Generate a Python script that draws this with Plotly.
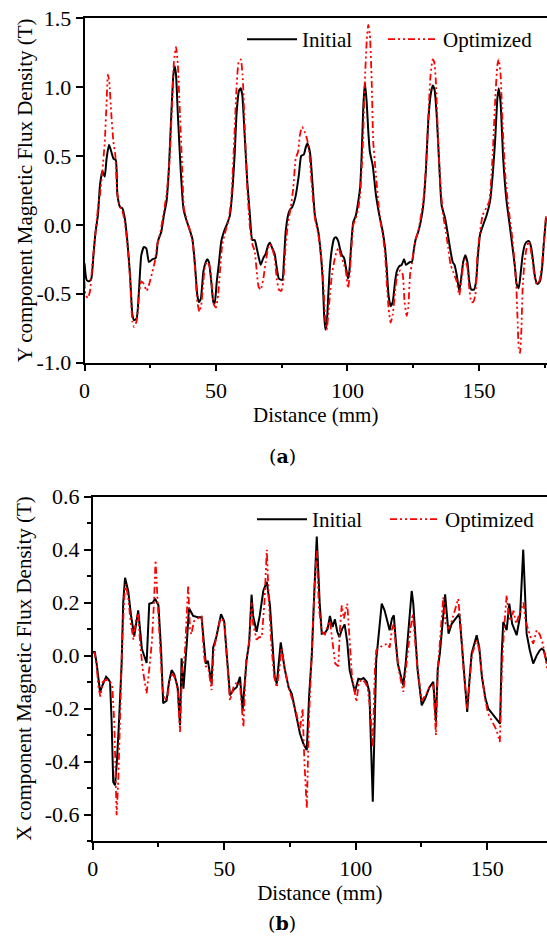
import plotly.graph_objects as go

# ---------------- (a) Y component ----------------
top_initial = [(0, -0.28), (0.8, -0.40), (1.7, -0.41), (2.6, -0.39), (3.4, -0.22), (4.2, -0.05), (5.1, 0.07), (5.9, 0.29), (6.8, 0.39), (7.7, 0.35), (8.4, 0.48), (9.3, 0.58), (10.2, 0.53), (11.0, 0.48), (11.9, 0.47), (12.5, 0.22), (13.5, 0.13), (14.4, 0.12), (15.3, 0.05), (16.3, -0.12), (17.3, -0.36), (18.2, -0.65), (18.8, -0.69), (19.8, -0.68), (20.7, -0.48), (21.6, -0.22), (22.6, -0.16), (23.5, -0.17), (24.5, -0.27), (25.8, -0.25), (27.1, -0.24), (27.9, -0.12), (29.2, -0.05), (30.2, 0.07), (31.2, 0.17), (32.1, 0.41), (33.0, 0.80), (33.8, 1.09), (34.3, 1.15), (34.8, 1.09), (35.5, 0.80), (36.6, 0.39), (37.6, 0.12), (38.5, 0.05), (39.7, -0.02), (41.0, -0.10), (42.0, -0.29), (42.9, -0.51), (43.5, -0.56), (44.2, -0.54), (45.2, -0.34), (46.1, -0.27), (46.7, -0.25), (47.3, -0.27), (48.2, -0.41), (49.0, -0.56), (49.5, -0.57), (50.3, -0.41), (51.1, -0.28), (52.0, -0.12), (53.0, -0.05), (54.3, 0.01), (55.3, 0.07), (56.2, 0.24), (57.1, 0.51), (57.8, 0.80), (58.7, 0.97), (59.4, 0.99), (60.0, 0.94), (60.9, 0.65), (61.9, 0.31), (62.9, 0.07), (63.8, -0.11), (64.7, -0.11), (65.5, -0.17), (66.3, -0.24), (67.0, -0.29), (68.0, -0.24), (68.9, -0.21), (69.8, -0.15), (70.5, -0.13), (71.4, -0.17), (72.3, -0.21), (73.1, -0.31), (73.9, -0.39), (75.2, -0.40), (75.8, -0.27), (76.5, -0.05), (77.4, 0.07), (78.1, 0.11), (79.0, 0.13), (80.3, 0.21), (81.5, 0.36), (82.4, 0.50), (83.4, 0.51), (84.1, 0.56), (84.7, 0.59), (85.7, 0.53), (86.8, 0.27), (87.6, 0.07), (88.9, -0.05), (89.9, -0.22), (90.6, -0.41), (91.1, -0.65), (91.6, -0.76), (92.1, -0.72), (92.7, -0.51), (93.3, -0.31), (94.1, -0.17), (94.9, -0.10), (95.6, -0.09), (96.5, -0.12), (97.1, -0.17), (97.9, -0.22), (98.7, -0.24), (99.4, -0.31), (100.2, -0.39), (100.7, -0.34), (101.5, -0.12), (102.2, 0.02), (103.2, 0.07), (104.1, 0.17), (104.8, 0.27), (105.4, 0.51), (106.0, 0.85), (106.6, 1.03), (107.3, 0.89), (107.9, 0.68), (108.5, 0.53), (109.6, 0.43), (110.8, 0.22), (112.1, 0.07), (113.4, -0.05), (114.3, -0.17), (114.9, -0.31), (115.6, -0.51), (116.4, -0.59), (117.2, -0.56), (118.1, -0.41), (118.7, -0.34), (119.7, -0.30), (120.6, -0.29), (121.5, -0.25), (122.2, -0.29), (123.0, -0.28), (123.8, -0.27), (124.5, -0.27), (125.3, -0.17), (126.0, -0.10), (126.9, -0.05), (127.8, 0.02), (128.8, 0.14), (129.8, 0.39), (130.7, 0.75), (131.6, 0.94), (132.4, 1.01), (133.1, 0.98), (133.9, 0.80), (134.9, 0.43), (135.8, 0.14), (137.1, 0.05), (138.0, -0.05), (139.0, -0.17), (140.0, -0.27), (140.7, -0.29), (141.5, -0.36), (142.5, -0.48), (143.4, -0.36), (144.0, -0.27), (144.8, -0.22), (145.6, -0.27), (146.3, -0.41), (147.1, -0.47), (148.1, -0.47), (148.9, -0.41), (149.6, -0.22), (150.4, -0.07), (151.6, 0.00), (152.9, 0.07), (154.2, 0.17), (155.2, 0.36), (156.1, 0.60), (157.0, 0.92), (157.5, 0.99), (158.2, 0.89), (159.2, 0.48), (160.5, 0.17), (161.8, -0.02), (162.8, -0.17), (163.7, -0.31), (164.3, -0.43), (165.1, -0.46), (165.8, -0.36), (166.6, -0.22), (167.5, -0.14), (168.4, -0.12), (169.1, -0.12), (169.9, -0.17), (170.6, -0.27), (171.4, -0.39), (172.2, -0.43), (173.2, -0.41), (174.0, -0.31), (174.7, -0.12), (175.5, 0.05)]

top_optimized = [(0, -0.41), (0.4, -0.51), (1.3, -0.53), (2.1, -0.48), (2.9, -0.31), (3.6, -0.17), (4.4, -0.02), (5.1, 0.12), (5.9, 0.22), (6.8, 0.39), (7.7, 0.60), (8.4, 0.89), (8.9, 1.09), (9.4, 1.04), (10.2, 0.80), (11.0, 0.60), (11.7, 0.51), (12.5, 0.22), (13.5, 0.13), (14.4, 0.10), (15.3, 0.02), (16.3, -0.14), (17.3, -0.39), (18.2, -0.70), (18.8, -0.74), (19.8, -0.70), (20.7, -0.51), (21.6, -0.41), (22.6, -0.43), (23.6, -0.48), (24.6, -0.43), (25.8, -0.34), (26.7, -0.27), (27.7, -0.14), (28.9, -0.05), (30.2, 0.10), (31.2, 0.22), (32.3, 0.46), (33.3, 0.87), (34.0, 1.18), (34.8, 1.29), (35.5, 1.16), (36.3, 0.80), (37.2, 0.39), (37.8, 0.12), (38.8, 0.04), (40.1, -0.04), (41.1, -0.12), (42.0, -0.31), (42.9, -0.56), (43.7, -0.63), (44.4, -0.58), (45.2, -0.41), (45.9, -0.29), (46.7, -0.27), (47.7, -0.31), (48.5, -0.46), (49.2, -0.58), (50.0, -0.60), (50.8, -0.51), (51.5, -0.34), (52.4, -0.14), (53.7, -0.04), (54.9, 0.05), (55.8, 0.19), (56.8, 0.56), (57.8, 0.99), (58.6, 1.18), (59.4, 1.20), (60.1, 1.09), (60.9, 0.72), (61.9, 0.27), (62.9, -0.02), (63.8, -0.14), (64.7, -0.19), (65.5, -0.34), (66.2, -0.45), (67.0, -0.47), (68.0, -0.39), (68.9, -0.27), (69.8, -0.17), (70.5, -0.14), (71.4, -0.17), (72.3, -0.24), (73.1, -0.39), (73.9, -0.47), (74.8, -0.48), (75.6, -0.41), (76.4, -0.17), (77.4, 0.02), (78.4, 0.12), (79.4, 0.27), (80.3, 0.48), (81.2, 0.53), (81.9, 0.65), (82.7, 0.71), (83.4, 0.69), (84.5, 0.63), (85.3, 0.56), (86.4, 0.29), (87.6, 0.05), (88.9, -0.07), (89.9, -0.22), (90.6, -0.36), (91.1, -0.53), (91.6, -0.70), (92.1, -0.76), (92.7, -0.65), (93.3, -0.51), (94.1, -0.36), (94.9, -0.27), (95.9, -0.19), (96.6, -0.17), (97.4, -0.22), (98.4, -0.27), (99.4, -0.34), (100.2, -0.46), (100.7, -0.39), (101.5, -0.17), (102.2, 0.00), (103.2, 0.05), (104.1, 0.12), (104.8, 0.22), (105.8, 0.56), (106.6, 1.04), (107.3, 1.33), (107.9, 1.45), (108.5, 1.38), (109.2, 1.04), (109.8, 0.60), (110.6, 0.41), (111.7, 0.17), (112.6, 0.02), (113.4, -0.07), (114.3, -0.22), (114.9, -0.41), (115.6, -0.60), (116.4, -0.71), (117.2, -0.65), (118.1, -0.48), (118.7, -0.39), (119.5, -0.34), (120.2, -0.33), (121.0, -0.36), (121.7, -0.56), (122.5, -0.66), (123.1, -0.60), (123.8, -0.36), (124.5, -0.28), (125.3, -0.17), (126.0, -0.10), (126.9, -0.05), (127.8, 0.05), (128.8, 0.17), (129.8, 0.41), (130.7, 0.77), (131.6, 1.09), (132.4, 1.20), (133.0, 1.18), (133.6, 1.04), (134.5, 0.60), (135.4, 0.27), (136.4, 0.07), (137.4, -0.05), (138.3, -0.17), (139.2, -0.29), (140.2, -0.34), (141.5, -0.41), (142.5, -0.51), (143.4, -0.39), (144.0, -0.29), (144.8, -0.25), (145.6, -0.31), (146.3, -0.46), (147.1, -0.56), (147.8, -0.56), (148.6, -0.51), (149.4, -0.22), (150.4, -0.05), (151.4, 0.07), (152.7, 0.12), (153.9, 0.17), (155.2, 0.51), (156.2, 0.92), (157.0, 1.16), (157.5, 1.20), (158.2, 1.09), (159.0, 0.72), (160.0, 0.36), (161.1, 0.14), (162.4, -0.05), (163.3, -0.22), (164.1, -0.41), (164.6, -0.65), (165.1, -0.89), (165.6, -0.93), (166.1, -0.77), (166.6, -0.46), (167.3, -0.27), (168.1, -0.17), (168.9, -0.12), (169.6, -0.17), (170.4, -0.27), (171.2, -0.39), (171.9, -0.43), (172.9, -0.41), (173.8, -0.31), (174.7, -0.12), (175.5, 0.07)]

# ---------------- (b) X component ----------------
bot_initial = [(0, 0.014), (0.8, 0.014), (1.5, -0.03), (2.2, -0.10), (2.8, -0.137), (3.8, -0.11), (5.1, -0.08), (6.0, -0.09), (6.6, -0.10), (7.2, -0.25), (7.8, -0.477), (8.5, -0.49), (9.2, -0.40), (9.9, -0.27), (11.0, -0.03), (11.6, 0.20), (12.3, 0.294), (13.5, 0.244), (14.6, 0.15), (15.8, 0.074), (17.3, 0.171), (18.7, 0.026), (20.5, -0.028), (21.5, 0.196), (22.8, 0.20), (23.7, 0.215), (25.0, 0.19), (26.0, 0.02), (26.8, -0.18), (28.1, -0.17), (29.0, -0.10), (30.0, -0.055), (31.0, -0.07), (32.3, -0.12), (33.2, -0.263), (33.8, -0.01), (34.5, -0.125), (35.8, 0.05), (36.6, 0.18), (38.2, 0.15), (40.0, 0.145), (41.4, 0.145), (42.4, 0.05), (43.0, -0.03), (43.8, -0.02), (45.2, -0.106), (45.8, 0.03), (47.0, 0.07), (48.8, 0.156), (50.0, 0.13), (51.0, 0.0), (52.2, -0.15), (53.5, -0.13), (54.8, -0.118), (56.0, -0.08), (57.0, -0.206), (58.5, -0.018), (59.5, 0.05), (60.4, 0.23), (61.0, 0.15), (62.3, 0.09), (63.5, 0.15), (64.9, 0.246), (66.2, 0.278), (67.4, 0.19), (68.5, 0.0), (69.2, -0.08), (70.0, -0.106), (71.5, 0.05), (73.0, -0.05), (74.5, -0.12), (75.7, -0.144), (77.3, -0.22), (78.8, -0.294), (80.0, -0.33), (81.4, -0.357), (82.3, -0.15), (83.3, 0.0), (84.3, 0.25), (85.2, 0.45), (86.3, 0.2), (87.1, 0.083), (88.3, 0.086), (89.3, 0.10), (90.2, 0.15), (91.2, 0.108), (92.1, 0.137), (93.0, 0.09), (93.8, 0.07), (94.8, 0.10), (95.8, 0.118), (96.8, 0.05), (97.7, -0.055), (98.6, -0.09), (99.7, -0.137), (101.0, -0.087), (102.0, -0.09), (103.0, -0.085), (104.2, -0.099), (105.2, -0.137), (106.5, -0.552), (107.8, -0.018), (108.8, 0.10), (109.9, 0.196), (111.0, 0.17), (112.0, 0.13), (112.9, 0.096), (113.8, 0.14), (114.5, 0.152), (115.3, 0.05), (116.0, -0.03), (117.0, -0.07), (118.1, -0.112), (119.0, -0.03), (120.0, 0.09), (121.3, 0.244), (121.9, 0.196), (122.7, 0.05), (123.5, -0.05), (125.1, -0.188), (126.5, -0.16), (128.0, -0.12), (129.5, -0.099), (130.5, -0.25), (131.2, -0.05), (132.0, 0.008), (132.8, 0.10), (134.0, 0.231), (135.3, 0.083), (136.5, 0.12), (138.0, 0.14), (139.4, 0.158), (140.3, 0.05), (141.3, -0.08), (142.4, -0.213), (143.2, -0.10), (144.1, 0.008), (146.0, 0.077), (147.0, 0.03), (148.0, -0.08), (149.3, -0.16), (150.4, -0.2), (152.0, -0.22), (153.5, -0.24), (154.9, -0.257), (155.5, 0.0), (156.1, 0.127), (157.4, 0.096), (158.4, 0.196), (159.5, 0.12), (161.2, 0.077), (162.5, 0.15), (163.7, 0.40), (165.0, 0.083), (166.2, 0.02), (167.5, -0.03), (168.8, 0.0), (170.0, 0.02), (170.7, 0.026), (171.5, 0.02), (172.8, -0.03)]

bot_optimized = [(0, 0.01), (0.8, 0.01), (1.5, -0.04), (2.2, -0.12), (2.9, -0.155), (3.8, -0.10), (5.1, -0.09), (6.0, -0.10), (6.6, -0.10), (7.4, -0.11), (8.2, -0.25), (9.1, -0.603), (9.8, -0.45), (10.5, -0.2), (11.2, 0.05), (12.0, 0.22), (12.5, 0.27), (13.5, 0.22), (14.5, 0.12), (15.5, 0.06), (16.5, 0.14), (17.3, 0.16), (18.0, 0.05), (19.0, -0.05), (20.5, -0.143), (21.5, -0.05), (22.5, 0.05), (23.3, 0.20), (23.9, 0.36), (24.6, 0.22), (25.5, 0.05), (26.5, -0.12), (27.5, -0.17), (28.5, -0.15), (29.5, -0.08), (30.5, -0.07), (31.5, -0.09), (32.3, -0.13), (33.2, -0.288), (34.0, -0.05), (35.0, 0.0), (35.6, 0.15), (36.3, 0.265), (37.0, 0.10), (37.5, 0.08), (38.5, 0.13), (40.0, 0.14), (41.4, 0.15), (42.3, 0.0), (43.0, -0.04), (44.0, -0.05), (45.2, -0.13), (46.0, 0.02), (47.0, 0.07), (48.5, 0.14), (50.0, 0.13), (51.0, -0.02), (52.2, -0.17), (53.5, -0.12), (54.8, -0.10), (56.0, -0.11), (57.3, -0.27), (58.3, -0.02), (59.5, 0.05), (60.4, 0.20), (61.0, 0.12), (62.3, 0.06), (63.3, 0.07), (64.3, 0.07), (65.3, 0.20), (66.2, 0.40), (67.0, 0.2), (68.0, 0.03), (69.0, -0.08), (70.0, -0.12), (71.0, -0.05), (71.8, 0.03), (73.0, -0.05), (74.5, -0.12), (76.0, -0.17), (77.5, -0.22), (78.8, -0.28), (79.8, -0.20), (80.5, -0.40), (81.4, -0.577), (82.2, -0.25), (83.3, 0.05), (84.3, 0.25), (85.2, 0.40), (86.0, 0.18), (87.1, 0.09), (88.3, 0.08), (89.3, 0.11), (90.2, 0.13), (91.2, 0.05), (92.2, -0.03), (93.4, -0.04), (94.0, 0.10), (94.7, 0.19), (95.5, 0.14), (96.8, 0.196), (97.7, 0.05), (98.6, -0.08), (100.3, -0.175), (101.2, -0.10), (102.5, -0.09), (103.5, -0.10), (104.5, -0.12), (105.5, -0.20), (106.5, -0.345), (107.3, -0.05), (107.8, 0.02), (109.0, 0.03), (110.5, 0.04), (112.2, 0.045), (112.9, 0.03), (113.8, 0.10), (114.5, 0.12), (115.3, 0.03), (116.5, -0.06), (118.1, -0.137), (119.0, -0.05), (120.0, 0.05), (120.8, 0.10), (121.7, 0.158), (122.5, 0.05), (123.5, -0.05), (125.1, -0.17), (126.5, -0.15), (128.0, -0.12), (129.5, -0.11), (130.5, -0.30), (131.2, -0.05), (132.0, 0.05), (133.3, 0.22), (134.2, 0.12), (135.3, 0.10), (136.5, 0.13), (137.8, 0.18), (139.0, 0.215), (140.0, 0.10), (141.0, -0.05), (142.4, -0.20), (143.3, -0.10), (144.1, 0.0), (146.0, 0.06), (147.0, 0.02), (148.0, -0.08), (149.3, -0.17), (150.4, -0.22), (152.0, -0.25), (153.5, -0.28), (154.8, -0.326), (155.6, -0.05), (156.4, 0.10), (157.4, 0.228), (158.2, 0.15), (159.0, 0.13), (160.0, 0.17), (161.0, 0.12), (162.0, 0.15), (163.1, 0.177), (163.8, 0.2), (164.6, 0.13), (165.5, 0.10), (166.5, 0.07), (167.5, 0.045), (168.8, 0.096), (170.0, 0.08), (171.0, 0.05), (172.0, 0.0), (172.8, -0.05)]

series_names = ["Initial", "Optimized"]
x_title = "Distance (mm)"
y_title_top = "Y component Magnetic Flux Density (T)"
y_title_bot = "X component Magnetic Flux Density (T)"
captions = ["(<b>a</b>)", "(<b>b</b>)"]
x_ticks = [0, 50, 100, 150]
x_ticktext = ["0", "50", "100", "150"]
y_ticks_top = [-1.0, -0.5, 0.0, 0.5, 1.0, 1.5]
y_ticktext_top = ["-1.0", "-0.5", "0.0", "0.5", "1.0", "1.5"]
y_ticks_bot = [-0.6, -0.4, -0.2, 0.0, 0.2, 0.4, 0.6]
y_ticktext_bot = ["-0.6", "-0.4", "-0.2", "0.0", "0.2", "0.4", "0.6"]

FONT = "Liberation Serif"
W, H = 547, 952

def xs(d):
    return [p[0] for p in d]

def ys(d):
    return [p[1] for p in d]

fig = go.Figure()
init_line = dict(color="black", width=2)
opt_line = dict(color="#ff0000", width=1.8, dash="7px,3px,2px,3px,2px,3px")

fig.add_trace(go.Scatter(x=xs(top_initial), y=ys(top_initial), name=series_names[0], mode="lines",
                         line=dict(**init_line, shape="spline", smoothing=0.5), xaxis="x", yaxis="y",
                         legend="legend", showlegend=True))
fig.add_trace(go.Scatter(x=xs(top_optimized), y=ys(top_optimized), name=series_names[1], mode="lines",
                         line=dict(**opt_line, shape="spline", smoothing=0.5), xaxis="x", yaxis="y",
                         legend="legend2", showlegend=True))
fig.add_trace(go.Scatter(x=xs(bot_initial), y=ys(bot_initial), name=series_names[0], mode="lines",
                         line=init_line, xaxis="x2", yaxis="y2", legend="legend3", showlegend=True))
fig.add_trace(go.Scatter(x=xs(bot_optimized), y=ys(bot_optimized), name=series_names[1], mode="lines",
                         line=opt_line, xaxis="x2", yaxis="y2", legend="legend4", showlegend=True))

axis_common = dict(showgrid=False, zeroline=False, showline=True, linecolor="black", linewidth=1.5,
                   ticks="outside", tickcolor="black", tickwidth=1.5, ticklen=7, automargin=False,
                   tickfont=dict(family=FONT, size=22, color="black"))
title_font = dict(family=FONT, size=21, color="black")
minor_x = dict(ticks="outside", tickvals=[25, 75, 125, 175], ticklen=4, tickcolor="black", tickwidth=1.5)
legend_common = dict(orientation="h", xanchor="left", yanchor="top", bgcolor="rgba(0,0,0,0)",
                     font=dict(family=FONT, size=21, color="black"), itemwidth=50)

top_dom = [1 - 362.7 / H, 1 - 18 / H]
bot_dom = [1 - 841 / H, 1 - 496.7 / H]

fig.update_layout(
    width=W, height=H, margin=dict(l=0, r=0, t=0, b=0, autoexpand=False),
    paper_bgcolor="white", plot_bgcolor="white", showlegend=True,
    font=dict(family=FONT, size=21, color="black"),
    xaxis=dict(**axis_common, domain=[84.5 / W, 1.0], range=[0, 175.86],
               tickvals=x_ticks, ticktext=x_ticktext, mirror=True, anchor="y", minor=minor_x,
               title=dict(text=x_title, font=title_font, standoff=0)),
    yaxis=dict(**axis_common, domain=top_dom, range=[-1.0, 1.5],
               tickvals=y_ticks_top, ticktext=y_ticktext_top, anchor="x"),
    xaxis2=dict(**axis_common, domain=[92.7 / W, 1.0], range=[0, 172.74],
                tickvals=x_ticks, ticktext=x_ticktext, mirror=True, anchor="y2", minor=minor_x,
                title=dict(text=x_title, font=title_font, standoff=0)),
    yaxis2=dict(**axis_common, domain=bot_dom, range=[-0.7, 0.6],
                tickvals=y_ticks_bot, ticktext=y_ticktext_bot, anchor="x2",
                minor=dict(ticks="outside", dtick=0.1, ticklen=4, tickcolor="black", tickwidth=1.5)),
    legend=dict(**legend_common, x=242 / W, y=1 - 19 / H),
    legend2=dict(**legend_common, x=383 / W, y=1 - 19 / H),
    legend3=dict(**legend_common, x=252 / W, y=1 - 499 / H),
    legend4=dict(**legend_common, x=385 / W, y=1 - 499 / H),
    annotations=[
        dict(text=y_title_top, x=25 / W, y=sum(top_dom) / 2, xref="paper", yref="paper", showarrow=False,
             textangle=-90, xanchor="center", yanchor="middle", font=title_font),
        dict(text=y_title_bot, x=24 / W, y=sum(bot_dom) / 2, xref="paper", yref="paper", showarrow=False,
             textangle=-90, xanchor="center", yanchor="middle", font=title_font),
        dict(text=captions[0], x=282 / W, y=1 - 456 / H, xref="paper", yref="paper", showarrow=False,
             font=dict(family="DejaVu Serif", size=19, color="black")),
        dict(text=captions[1], x=282 / W, y=1 - 936 / H, xref="paper", yref="paper", showarrow=False,
             font=dict(family="DejaVu Serif", size=19, color="black")),
    ],
)

fig.write_html("out.html")
